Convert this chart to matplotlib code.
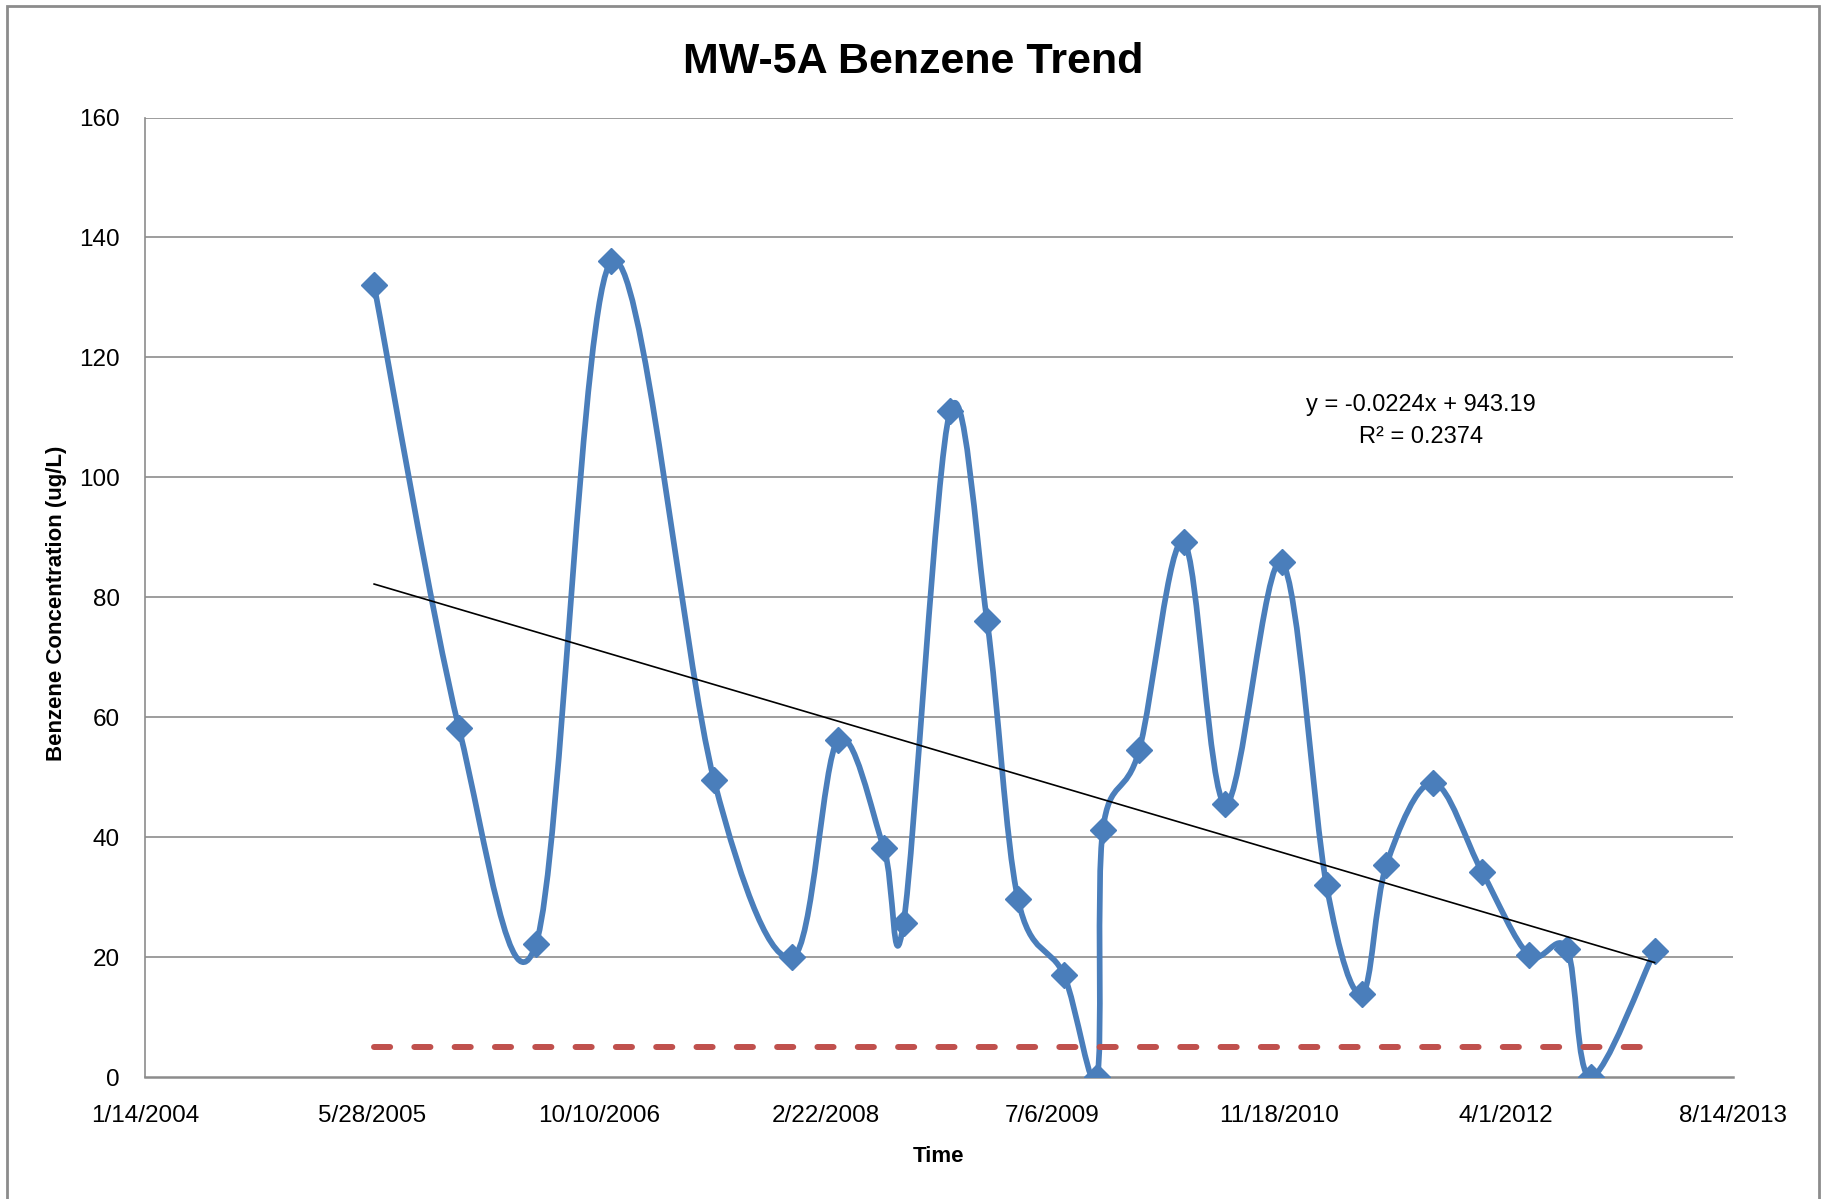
import numpy as np
import matplotlib
matplotlib.use("Agg")
import matplotlib.pyplot as plt
import pandas as pd
from matplotlib.path import Path
from matplotlib.patches import PathPatch, Rectangle

plt.rcParams['font.family'] = ['Liberation Sans', 'DejaVu Sans']

# sample dates as Excel serial numbers (day 38000 = 1/14/2004)
sample_serial = [38505, 38692, 38862, 39028, 39254, 39427, 39527, 39628, 39672,
                 39774, 39856, 39924, 40025, 40098, 40111, 40191, 40289, 40381,
                 40505, 40604, 40682, 40736, 40839, 40947, 41050, 41134, 41186,
                 41327]
benzene = [132, 58.2, 22.3, 136, 49.6, 20, 56.2, 38.3, 25.8,
           111, 76, 29.7, 17.1, 0, 41.2, 54.5, 89.3, 45.5,
           85.9, 32, 13.9, 35.4, 49.1, 34.2, 20.4, 21.4, 0,
           21]
mcl = 5
x_ticks = [38000, 38500, 39000, 39500, 40000, 40500, 41000, 41500]
y_ticks = [0, 20, 40, 60, 80, 100, 120, 140, 160]
eq_text = "y = -0.0224x + 943.19"
r2_text = "R\u00b2 = 0.2374"

blue = '#4A7EBB'
red = '#C0504D'
grid_c = '#8C8C8C'

def excel_label(s):
    d = pd.Timestamp('1899-12-30') + pd.Timedelta(days=s)
    return f"{d.month}/{d.day}/{d.year}"

def smooth_path(xs, ys):
    # excel style smoothed line: catmull-rom as cubic bezier
    pts = np.column_stack([xs, ys]).astype(float)
    n = len(pts)
    verts = [pts[0]]
    codes = [Path.MOVETO]
    for i in range(n - 1):
        p0 = pts[max(i - 1, 0)]
        p1 = pts[i]
        p2 = pts[i + 1]
        p3 = pts[min(i + 2, n - 1)]
        c1 = p1 + (p2 - p0) / 6.0
        c2 = p2 - (p3 - p1) / 6.0
        verts += [c1, c2, p2]
        codes += [Path.CURVE4] * 3
    return Path(verts, codes)

fig = plt.figure(figsize=(18.26, 11.99), dpi=100)
ax = fig.add_axes([0.0794, 0.1015, 0.8697, 0.8005])

x = np.array(sample_serial)
y = np.array(benzene)

for yt in y_ticks[1:]:
    ax.axhline(yt, color=grid_c, lw=1.2, zorder=1)

ax.add_patch(PathPatch(smooth_path(x, y), fill=False, edgecolor=blue, lw=4.1,
                       capstyle='round', joinstyle='round', zorder=3))
ax.plot([x[0], x[-1]], [mcl, mcl], color=red, lw=4.3, dashes=(2.7, 4.05),
        dash_capstyle='round', zorder=4)
ax.plot(x, y, linestyle='none', marker='D', markersize=13.5, color=blue, zorder=5)

# linear trend
k, b = np.polyfit(x, y, 1)
ax.plot([x[0], x[-1]], [k * x[0] + b, k * x[-1] + b], color='black', lw=1.2, zorder=6)

ax.set_xlim(x_ticks[0], x_ticks[-1])
ax.set_ylim(y_ticks[0], y_ticks[-1])
ax.set_xticks(x_ticks)
ax.set_xticklabels([excel_label(t) for t in x_ticks])
ax.set_yticks(y_ticks)
ax.tick_params(axis='both', length=0, labelsize=17.5, colors='black')
ax.tick_params(axis='y', pad=18)
ax.tick_params(axis='x', pad=20)
for s in ['top', 'right']:
    ax.spines[s].set_visible(False)
ax.spines['left'].set_color(grid_c)
ax.spines['left'].set_linewidth(1.2)
ax.spines['bottom'].set_color(grid_c)
ax.spines['bottom'].set_linewidth(1.8)

ax.text(0.8035, 0.700, eq_text, transform=ax.transAxes, ha='center', va='center',
        fontsize=17)
ax.text(0.8035, 0.667, r2_text, transform=ax.transAxes, ha='center', va='center',
        fontsize=17)

fig.text(0.5, 0.9388, "MW-5A Benzene Trend", ha='center', va='baseline',
         fontsize=31, fontweight='bold')
fig.text(0.514, 0.0309, "Time", ha='center', va='baseline', fontsize=16,
         fontweight='bold')
fig.text(0.0307, 0.497, "Benzene Concentration (ug/L)", ha='center', va='center',
         rotation=90, fontsize=16, fontweight='bold')

# chart area border
fig.patches.append(Rectangle((7 / 1826, -0.01), (1819 - 7) / 1826, 1 - 6 / 1199 + 0.01,
                             transform=fig.transFigure, fill=False,
                             edgecolor='#8C8C8C', lw=2))

fig.savefig('out.png', dpi=100)
